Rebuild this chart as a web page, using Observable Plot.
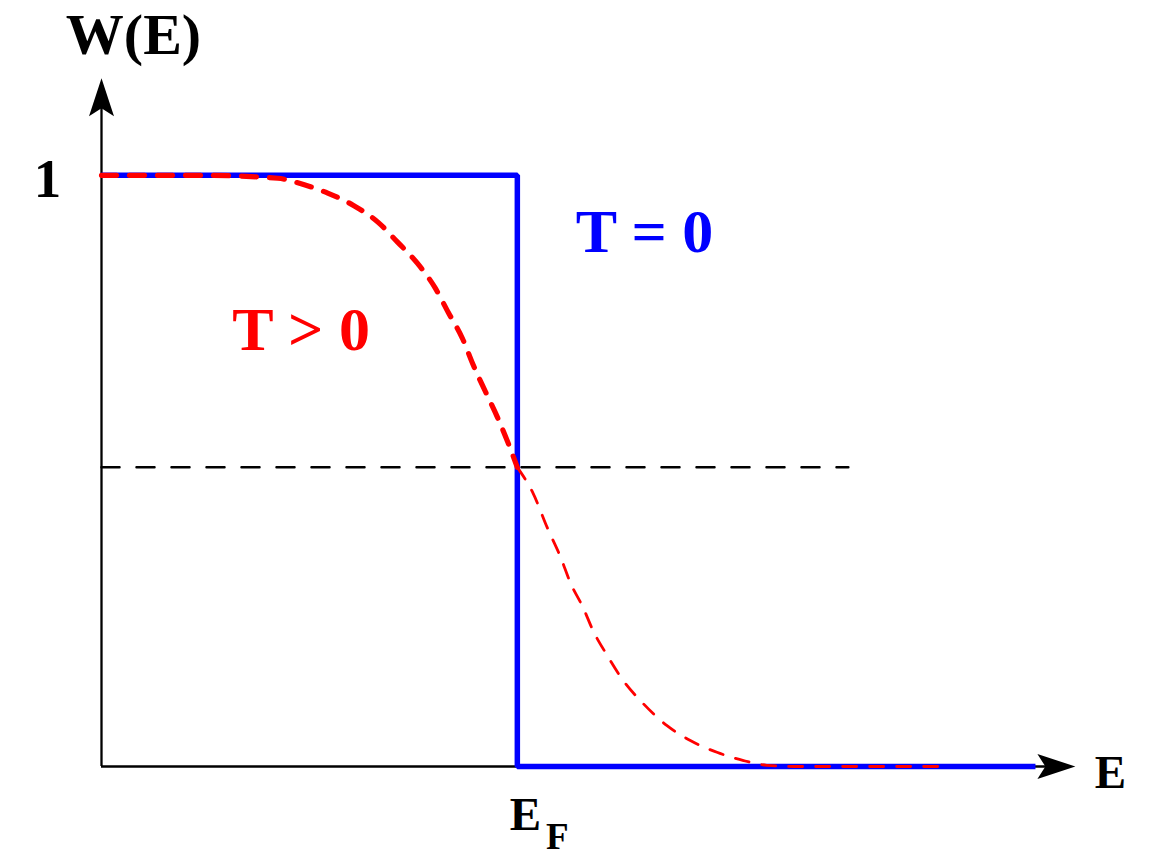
<!DOCTYPE html>
<html>
<head>
<meta charset="utf-8">
<script src="https://cdn.jsdelivr.net/npm/d3@7"></script>
<script src="https://cdn.jsdelivr.net/npm/@observablehq/plot@0.6"></script>
<style>
  body { margin: 0; background: #ffffff; }
  #chart svg { display: block; }
</style>
</head>
<body>
<div id="chart"></div>
<script>
// ---- Data (energy E in arbitrary units, E_F = 5; occupation W(E)) ----
const stepE = [0, 5, 5, 11.23];          // T = 0 step function
const stepW = [1, 1, 0, 0];

const warmHiE = [0, 1.19, 2.12, 2.39, 2.72, 3.03, 3.33, 3.56, 3.80, 4.01, 4.17, 4.34, 4.47, 4.62, 4.76, 4.89, 5.0];
const warmHiW = [1, 1, 0.995, 0.986, 0.970, 0.949, 0.920, 0.887, 0.851, 0.810, 0.768, 0.724, 0.679, 0.633, 0.591, 0.547, 0.506];

const warmLoE = [5.0, 5.19, 5.36, 5.52, 5.64, 5.79, 5.91, 6.08, 6.27, 6.51, 6.80, 7.08, 7.40, 7.72, 8.00, 8.32, 10.08];
const warmLoW = [0.506, 0.462, 0.404, 0.354, 0.310, 0.269, 0.230, 0.188, 0.146, 0.107, 0.069, 0.044, 0.024, 0.010, 0.002, 0, 0];

const halfE = [0, 8.98];                 // W = 1/2 reference line
const halfW = [0.506, 0.506];

const axisXEnd = 11.71;                  // arrow tips of the axes
const axisYEnd = 1.164;

const labelText = ["W(E)", "1", "E", "E", "F", "T = 0", "T > 0"];
const labelE    = [0.385, -0.649, 12.13, 5.096, 5.48, 6.53, 2.40];
const labelW    = [1.206, 0.963, -0.037, -0.108, -0.139, 0.870, 0.704];

// ---- Tables built from the arrays ----
const zip = (xs, ys) => xs.map((x, i) => ({E: x, W: ys[i]}));
const step = zip(stepE, stepW);
const warmHi = zip(warmHiE, warmHiW);
const warmLo = zip(warmLoE, warmLoW);
const half = zip(halfE, halfW);
const labels = labelText.map((t, i) => ({t, E: labelE[i], W: labelW[i]}));

// filled arrowhead symbol, tip at the anchor point, pointing up
const arrowHead = {
  draw(ctx) {
    ctx.moveTo(0, 0);
    ctx.lineTo(12.5, 38);
    ctx.lineTo(0, 30);
    ctx.lineTo(-12.5, 38);
    ctx.closePath();
  }
};

const serif = "'Liberation Serif', 'Times New Roman', serif";
const labelStyle = [
  {size: 58, color: "#000000"},
  {size: 55, color: "#000000"},
  {size: 47, color: "#000000"},
  {size: 47, color: "#000000"},
  {size: 37, color: "#000000"},
  {size: 62, color: "#0000ff"},
  {size: 62, color: "#ff0000"}
];

const chart = Plot.plot({
  width: 1156,
  height: 856,
  marginLeft: 101,
  marginRight: 57,
  marginTop: 27,
  marginBottom: 90,
  style: {background: "#ffffff", overflow: "visible"},
  x: {domain: [0, 12], axis: null},
  y: {domain: [0, 1.25], axis: null},
  marks: [
    // axes
    Plot.ruleY([0], {x1: 0, x2: axisXEnd - 0.3, stroke: "#000000", strokeWidth: 2.3}),
    Plot.ruleX([0], {y1: 0, y2: axisYEnd - 0.04, stroke: "#000000", strokeWidth: 2.3}),
    // half line
    Plot.line(half, {x: "E", y: "W", stroke: "#000000", strokeWidth: 2.5, strokeDasharray: "18,17"}),
    // T = 0
    Plot.line(step, {x: "E", y: "W", stroke: "#0000ff", strokeWidth: 5.5, strokeLinejoin: "miter", strokeLinecap: "butt"}),
    // T > 0
    Plot.line(warmHi, {x: "E", y: "W", stroke: "#ff0000", strokeWidth: 5.2, strokeDasharray: "15,13", curve: "monotone-x"}),
    Plot.line(warmLo, {x: "E", y: "W", stroke: "#ff0000", strokeWidth: 2.8, strokeDasharray: "14,13", curve: "monotone-x"}),
    // arrowheads
    Plot.dot([{E: 0, W: axisYEnd}], {x: "E", y: "W", symbol: arrowHead, fill: "#000000", stroke: "none", rotate: 0}),
    Plot.dot([{E: axisXEnd, W: 0}], {x: "E", y: "W", symbol: arrowHead, fill: "#000000", stroke: "none", rotate: 90}),
    // labels
    ...labels.map((d, i) => Plot.text([d], {
      x: "E", y: "W", text: "t",
      fontSize: labelStyle[i].size,
      fontWeight: "bold",
      fontFamily: serif,
      fill: labelStyle[i].color,
      textAnchor: "middle",
      lineAnchor: "bottom"
    }))
  ]
});

document.getElementById("chart").appendChild(chart);
</script>
</body>
</html>
